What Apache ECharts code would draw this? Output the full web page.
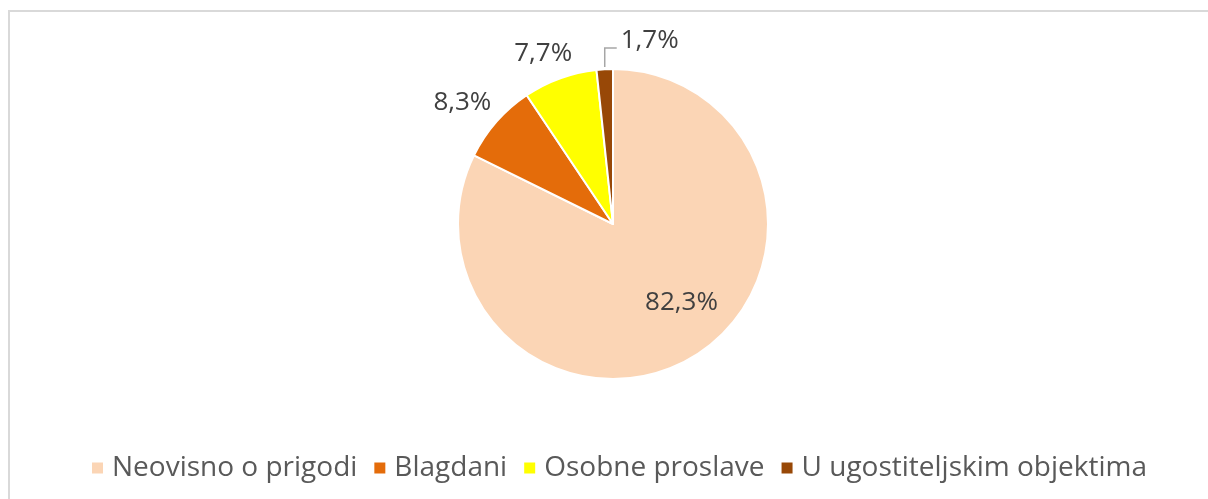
<!DOCTYPE html>
<html>
<head>
<meta charset="utf-8">
<script src="https://cdn.jsdelivr.net/npm/echarts@6/dist/echarts.min.js"></script>
<style>
  html, body { margin: 0; padding: 0; background: #fff; }
  #chart { width: 1208px; height: 499px; }
</style>
</head>
<body>
<div id="chart"></div>
<script>
const categories = ['Neovisno o prigodi', 'Blagdani', 'Osobne proslave', 'U ugostiteljskim objektima']
const shares = [82.3, 8.3, 7.7, 1.7]
const colors = ['#FBD5B5', '#E46C0A', '#FFFF00', '#984807']

// label nudges so they sit where the original put them
const labelShift = [
  { dx: 26, dy: 10 },
  { dx: 15, dy: -6 },
  { dx: 24, dy: -6 }
]

const chart = echarts.init(document.getElementById('chart'))

chart.setOption({
  animation: false,
  textStyle: { fontFamily: 'Open Sans' },
  graphic: [
    {
      type: 'rect',
      silent: true,
      shape: { x: 9, y: 11, width: 1400, height: 800 },
      style: { fill: 'none', stroke: '#D9D9D9', lineWidth: 2 }
    }
  ],
  legend: {
    left: 85,
    top: 449,
    icon: 'rect',
    itemWidth: 13,
    itemHeight: 13,
    itemGap: 15,
    textStyle: { fontSize: 28, color: '#595959', padding: [0, 0, 0, 3] },
    data: categories
  },
  series: [
    {
      type: 'pie',
      center: [613, 224],
      radius: 155,
      startAngle: 90,
      clockwise: true,
      avoidLabelOverlap: false,
      itemStyle: { borderColor: '#fff', borderWidth: 2 },
      label: {
        position: 'outside',
        fontSize: 26,
        color: '#404040',
        formatter: p => p.value.toFixed(1).replace('.', ',') + '%'
      },
      labelLine: { show: false, length: 20, length2: 0 },
      labelLayout: p => {
        if (p.dataIndex < 3) return labelShift[p.dataIndex]
        // smallest slice: elbow line going up, label to its right
        const top = p.rect.y
        const mx = p.rect.x + p.rect.width / 2
        return {
          x: mx + 16,
          y: top - 27,
          align: 'left',
          verticalAlign: 'middle',
          labelLinePoints: [[mx, top - 1], [mx, top - 20], [mx + 12, top - 20]]
        }
      },
      data: categories.map((name, i) => {
        const item = { name, value: shares[i], itemStyle: { color: colors[i] } }
        if (i === 0) item.label = { position: 'inside' }
        if (i === 3) item.labelLine = { show: true, lineStyle: { color: '#A6A6A6', width: 1.5 } }
        return item
      })
    }
  ]
})
</script>
</body>
</html>
